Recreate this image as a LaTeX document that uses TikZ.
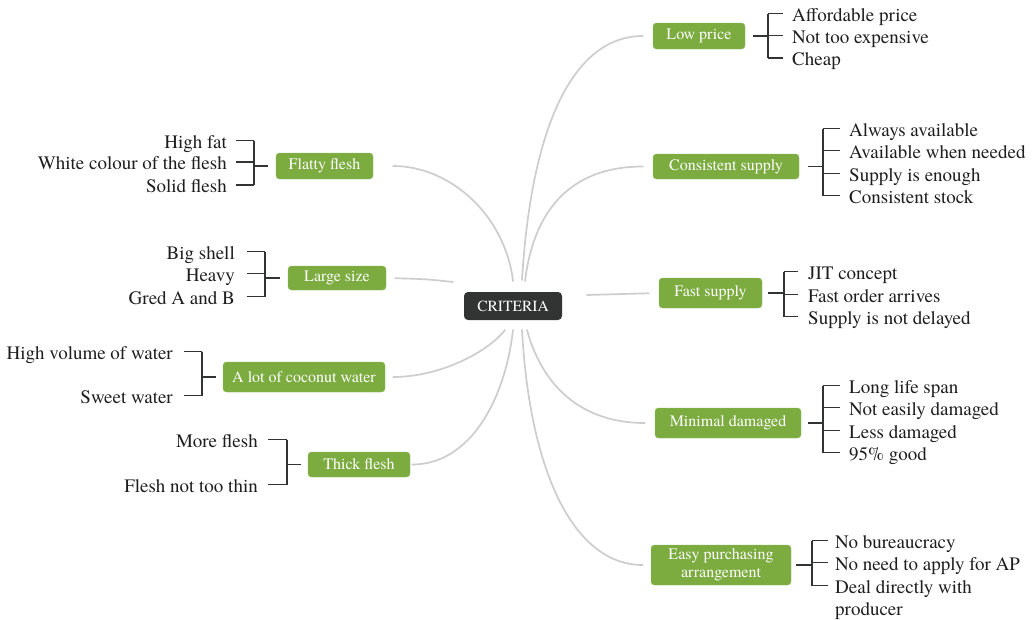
\documentclass[tikz,border=0pt]{standalone}
\usepackage{fontspec}
\setmainfont{TeX Gyre Termes}
\definecolor{leaf}{RGB}{124,172,64}
\definecolor{dark}{RGB}{50,52,51}
\definecolor{curvegray}{RGB}{205,205,205}
\definecolor{ink}{RGB}{30,30,30}
\begin{document}
\begin{tikzpicture}[x=1pt,y=-1pt,
  cat/.style={fill=leaf,draw=leaf!85!white,rounded corners=3.5pt,text=white,
    font=\fontsize{16}{17}\selectfont,inner sep=0pt,align=center},
  root/.style={fill=dark,rounded corners=4pt,text=white,
    font=\fontsize{15.5}{17}\selectfont,inner sep=0pt,minimum width=98pt,minimum height=28pt},
  itemR/.style={anchor=west,inner sep=0pt,text=ink,font=\fontsize{19}{22}\selectfont,text height=15pt,text depth=0pt},
  itemL/.style={anchor=east,inner sep=0pt,text=ink,font=\fontsize{19}{22}\selectfont,text height=15pt,text depth=0pt},
  curve/.style={draw=curvegray,line width=1.7pt,line cap=round},
  br/.style={draw=dark,line width=1.3pt}]
\useasboundingbox (0,0) rectangle (1032,619);

% root
\node[root] (crit) at (513,306) {CRITERIA};
\coordinate (ctA) at (522,280);
\coordinate (ctB) at (525,281);
\coordinate (ctC) at (513,281);
\coordinate (cbA) at (505,330);
\coordinate (cbB) at (513,330);
\coordinate (cbC) at (527,330);
\coordinate (cbD) at (522,330);
\coordinate (clA) at (453,282);
\coordinate (crA) at (587,295);

% category nodes
\node[cat,minimum width=92pt,minimum height=26pt] (lp) at (699,36) {Low price};
\node[cat,minimum width=146pt,minimum height=25pt] (cs) at (726,166.5) {Consistent supply};
\node[cat,minimum width=103pt,minimum height=30pt] (fs) at (710.5,293) {Fast supply};
\node[cat,minimum width=146pt,minimum height=30pt] (md) at (728,423) {Minimal damaged};
\node[cat,minimum width=140pt,minimum height=40pt,font=\fontsize{16}{18}\selectfont] (ep) at (721,565) {Easy purchasing\\arrangement};
\node[cat,minimum width=97pt,minimum height=26pt] (ff) at (324.5,166) {Flatty flesh};
\node[cat,minimum width=98pt,minimum height=24pt] (ls) at (337,278) {Large size};
\node[cat,minimum width=162pt,minimum height=30pt] (cw) at (304,377) {A lot of coconut water};
\node[cat,minimum width=102pt,minimum height=25pt] (tf) at (359,464.5) {Thick flesh};

% curves
\draw[curve,shorten >=10pt] (ctA) .. controls (532,115) and (578,36) .. (lp.west);
\draw[curve,shorten >=10pt] (ctB) .. controls (535,200) and (580,166.5) .. (cs.west);
\draw[curve,shorten >=10pt] (crA) -- (fs.west);
\draw[curve,shorten >=10pt] (cbC) .. controls (545,395) and (590,423) .. (md.west);
\draw[curve,shorten >=8pt] (cbD) .. controls (530,475) and (575,565) .. (ep.west);
\draw[curve,shorten >=20pt] (ctC) .. controls (505,215) and (450,166) .. (ff.east);
\draw[curve,shorten >=9pt] (clA) .. controls (425,279) .. (ls.east);
\draw[curve,shorten >=8pt] (cbA) .. controls (488,352) and (440,377) .. (cw.east);
\draw[curve,shorten >=2pt] (cbB) .. controls (505,400) and (470,464.5) .. (tf.east);

% items right
\node[itemR] (lp1) at (792,13.5) {Affordable price};
\node[itemR] (lp2) at (792,35.5) {Not too expensive};
\node[itemR] (lp3) at (792,58) {Cheap};
\node[itemR] (cs1) at (849,128.5) {Always available};
\node[itemR] (cs2) at (849,150.5) {Available when needed};
\node[itemR] (cs3) at (849,173.5) {Supply is enough};
\node[itemR] (cs4) at (849,195.5) {Consistent stock};
\node[itemR] (fs1) at (808,271.5) {JIT concept};
\node[itemR] (fs2) at (808,294.5) {Fast order arrives};
\node[itemR] (fs3) at (808,316.5) {Supply is not delayed};
\node[itemR] (md1) at (849,385.5) {Long life span};
\node[itemR] (md2) at (849,407.5) {Not easily damaged};
\node[itemR] (md3) at (849,430.5) {Less damaged};
\node[itemR] (md4) at (849,452.5) {95\% good};
\node[itemR] (ep1) at (835,540.5) {No bureaucracy};
\node[itemR] (ep2) at (835,562.5) {No need to apply for AP};
\node[itemR] (ep3) at (835,585.5) {Deal directly with};
\node[itemR] (ep3b) at (835,607.5) {producer};

% items left
\node[itemL] (ff1) at (227,140.5) {High fat};
\node[itemL] (ff2) at (227,162) {White colour of the flesh};
\node[itemL] (ff3) at (227,185) {Solid flesh};
\node[itemL] (ls1) at (235,251.5) {Big shell};
\node[itemL] (ls2) at (235,273.5) {Heavy};
\node[itemL] (ls3) at (235,296.5) {Gred A and B};
\node[itemL] (cw1) at (173,351.5) {High volume of water};
\node[itemL] (cw2) at (173,395.5) {Sweet water};
\node[itemL] (tf1) at (258,439.5) {More flesh};
\node[itemL] (tf2) at (258,484.5) {Flesh not too thin};

% bracket columns
\coordinate (lpB) at (768,0);
\coordinate (csB) at (823,0);
\coordinate (fsB) at (784,0);
\coordinate (mdB) at (823,0);
\coordinate (epB) at (812,0);
\coordinate (ffB) at (254,0);
\coordinate (lsB) at (265,0);
\coordinate (cwB) at (202,0);
\coordinate (tfB) at (287,0);

% brackets right
\draw[br] ([xshift=8pt]lp.east) -- (lpB |- lp.east);
\draw[br] (lpB |- lp1.west) -- (lpB |- lp3.west);
\foreach \i in {1,2,3} \draw[br] (lpB |- lp\i.west) -- ([xshift=-9pt]lp\i.west);

\draw[br] ([xshift=9pt]cs.east) -- (csB |- cs.east);
\draw[br] (csB |- cs1.west) -- (csB |- cs4.west);
\foreach \i in {1,2,3,4} \draw[br] (csB |- cs\i.west) -- ([xshift=-9pt]cs\i.west);

\draw[br] ([xshift=6pt]fs.east) -- (fsB |- fs.east);
\draw[br] (fsB |- fs1.west) -- (fsB |- fs3.west);
\foreach \i in {1,2,3} \draw[br] (fsB |- fs\i.west) -- ([xshift=-10pt]fs\i.west);

\draw[br] ([xshift=7pt]md.east) -- (mdB |- md.east);
\draw[br] (mdB |- md1.west) -- (mdB |- md4.west);
\foreach \i in {1,2,3,4} \draw[br] (mdB |- md\i.west) -- ([xshift=-9pt]md\i.west);

\draw[br] ([xshift=5pt]ep.east) -- (epB |- ep.east);
\draw[br] (epB |- ep1.west) -- (epB |- ep3.west);
\foreach \i in {1,2,3} \draw[br] (epB |- ep\i.west) -- ([xshift=-7pt]ep\i.west);

% brackets left
\draw[br] ([xshift=-8pt]ff.west) -- (ffB |- ff.west);
\draw[br] (ffB |- ff1.east) -- (ffB |- ff3.east);
\foreach \i in {1,2,3} \draw[br] (ffB |- ff\i.east) -- ([xshift=9pt]ff\i.east);

\draw[br] ([xshift=-8pt]ls.west) -- (lsB |- ls.west);
\draw[br] (lsB |- ls1.east) -- (lsB |- ls3.east);
\foreach \i in {1,2,3} \draw[br] (lsB |- ls\i.east) -- ([xshift=12pt]ls\i.east);

\draw[br] ([xshift=-7pt]cw.west) -- (cwB |- cw.west);
\draw[br] (cwB |- cw1.east) -- (cwB |- cw2.east);
\foreach \i in {1,2} \draw[br] (cwB |- cw\i.east) -- ([xshift=11pt]cw\i.east);

\draw[br] ([xshift=-7pt]tf.west) -- (tfB |- tf.west);
\draw[br] (tfB |- tf1.east) -- (tfB |- tf2.east);
\foreach \i in {1,2} \draw[br] (tfB |- tf\i.east) -- ([xshift=10pt]tf\i.east);
\end{tikzpicture}
\end{document}
